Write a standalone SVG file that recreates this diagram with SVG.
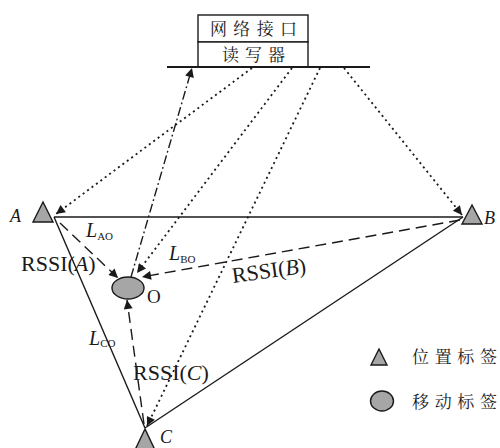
<svg xmlns="http://www.w3.org/2000/svg" width="500" height="448" viewBox="0 0 500 448">
  <style>
    .solid { stroke: #1a1a1a; stroke-width: 1.4; fill: none; }
    .dot { stroke: #1a1a1a; stroke-width: 1.8; fill: none; stroke-dasharray: 2 3.5; }
    .dash { stroke: #1a1a1a; stroke-width: 1.4; fill: none; stroke-dasharray: 11 6; }
    .dashdot { stroke: #1a1a1a; stroke-width: 1.4; fill: none; stroke-dasharray: 9 3 1.8 3; }
    .tag { fill: #a6a6a6; stroke: #1a1a1a; stroke-width: 1.4; }
    .lat { font-family: "Liberation Serif", "Times New Roman", serif; fill: #1a1a1a; }
    .it { font-style: italic; }
    .cjk { font-family: "Noto Serif CJK SC", "Noto Sans CJK SC", serif; fill: #1a1a1a; font-size: 17px; }
  </style>
  <defs>
    <marker id="arrow" viewBox="0 0 10 10" refX="10" refY="5" markerUnits="userSpaceOnUse" markerWidth="13" markerHeight="9" orient="auto">
      <path d="M0,0 L10,5 L0,10 z" fill="#1a1a1a"/>
    </marker>
  </defs>

  <!-- reader with network interface -->
  <g id="reader">
    <rect x="198" y="15" width="110" height="27" fill="#fff" stroke="#1a1a1a" stroke-width="1.4"/>
    <rect x="198" y="42" width="110" height="25" fill="#fff" stroke="#1a1a1a" stroke-width="1.4"/>
    <line x1="167" y1="67" x2="370" y2="67" stroke="#1a1a1a" stroke-width="1.8"/>
    <text class="cjk" x="210" y="35" textLength="87" lengthAdjust="spacing">网络接口</text>
    <text class="cjk" x="222" y="61" textLength="63" lengthAdjust="spacing">读写器</text>
  </g>

  <!-- connectors -->
  <g id="connectors">
    <!-- triangle sides between reference tags -->
    <line class="solid" x1="54" y1="217" x2="463" y2="217"/>
    <line class="solid" x1="54" y1="217" x2="145" y2="428"/>
    <line class="solid" x1="463" y1="217" x2="145" y2="428"/>
    <!-- reader to tags -->
    <line class="dot" x1="252" y1="68" x2="56" y2="214" marker-end="url(#arrow)"/>
    <line class="dot" x1="292" y1="68" x2="137" y2="273" marker-end="url(#arrow)"/>
    <line class="dot" x1="320" y1="68" x2="147" y2="426" marker-end="url(#arrow)"/>
    <line class="dot" x1="344" y1="68" x2="462" y2="215" marker-end="url(#arrow)"/>
    <line class="dashdot" x1="131" y1="277" x2="192" y2="68" marker-end="url(#arrow)"/>
    <!-- RSSI from reference tags to moving tag -->
    <line class="dash" x1="60" y1="223" x2="118" y2="278" marker-end="url(#arrow)"/>
    <line class="dash" x1="460" y1="220" x2="142" y2="277" marker-end="url(#arrow)"/>
    <line class="dash" x1="144" y1="424" x2="127" y2="300" marker-end="url(#arrow)"/>
  </g>

  <!-- reference tags -->
  <g id="tag-A">
    <polygon class="tag" points="43,202 33,222 53,222"/>
    <text class="lat it" x="10" y="222" font-size="18">A</text>
  </g>
  <g id="tag-B">
    <polygon class="tag" points="472,205 462,224 482,224"/>
    <text class="lat it" x="484" y="224" font-size="18">B</text>
  </g>
  <g id="tag-C">
    <polygon class="tag" points="145,429 135,450 155,450"/>
    <text class="lat it" x="160" y="443" font-size="18">C</text>
  </g>

  <!-- moving tag -->
  <g id="tag-O">
    <ellipse class="tag" cx="128" cy="288" rx="16" ry="11"/>
    <text class="lat" x="147" y="303" font-size="19">O</text>
  </g>

  <!-- distance and RSSI labels -->
  <g id="labels">
    <text class="lat" x="86" y="237" font-size="20"><tspan class="it">L</tspan><tspan font-size="11" dy="3">AO</tspan></text>
    <text class="lat" x="21" y="271" font-size="22">RSSI(<tspan class="it">A</tspan>)</text>
    <text class="lat" x="169" y="260" font-size="20"><tspan class="it">L</tspan><tspan font-size="11" dy="3">BO</tspan></text>
    <text class="lat" x="233" y="283" font-size="22" transform="rotate(-8 233 283)">RSSI(<tspan class="it">B</tspan>)</text>
    <text class="lat" x="89" y="345" font-size="20"><tspan class="it">L</tspan><tspan font-size="11" dy="2">CO</tspan></text>
    <text class="lat" x="133" y="380" font-size="22">RSSI(<tspan class="it">C</tspan>)</text>
  </g>

  <!-- legend -->
  <g id="legend-position">
    <polygon class="tag" points="379,349 371,365 387,365"/>
    <text class="cjk" x="412" y="363" textLength="85" lengthAdjust="spacing">位置标签</text>
  </g>
  <g id="legend-moving">
    <ellipse class="tag" cx="382" cy="401" rx="11.5" ry="10"/>
    <text class="cjk" x="412" y="408" textLength="85" lengthAdjust="spacing">移动标签</text>
  </g>
</svg>
